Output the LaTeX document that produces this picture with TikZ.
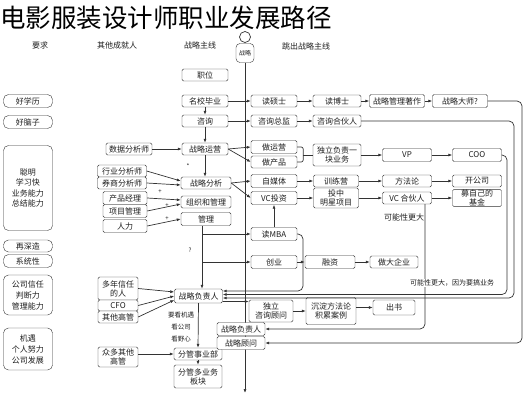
\documentclass[tikz,border=0pt]{standalone}
\usepackage{fontspec}
\setmainfont{Noto Sans CJK SC}
\usetikzlibrary{arrows.meta}
\definecolor{linec}{HTML}{333333}
\definecolor{txtc}{HTML}{1F1F1F}
\newcommand{\boxfont}{\fontsize{8}{9}\selectfont}
\newcommand{\tinyfont}{\fontsize{6}{7}\selectfont}
\begin{document}
\begin{tikzpicture}[x = 1pt, y = -1pt,
    bx/.style = {draw = linec, fill = white, rounded corners = 1.5pt, font = \boxfont, text = txtc, align = center, inner sep = 0.5pt, minimum height = 12pt, minimum width = #1},
    bx/.default = 46pt,
    req/.style = {bx = 49pt, rounded corners = 5pt},
    lbl/.style = {font = \boxfont, text = txtc, inner sep = 1pt, align = center},
    ln/.style = {draw = linec, line width = 0.7pt},
    arr/.style = {ln, -{Latex[length = 4pt, width = 3pt]}},
    back/.style = {arr, rounded corners = 5pt}]
  \useasboundingbox (0, 0) rectangle (528, 400);
  \node[anchor = west, inner sep = 0, font = \fontsize{25.5}{26}\selectfont, text = black] (title) at (0, 18) {电影服装设计师职业发展路径};
  % headers
  \node[lbl] (hyq) at (40, 45) {要求};
  \node[lbl] (hqt) at (117, 45) {其他成就人};
  \node[lbl] (hzl) at (200, 45) {战略主线};
  \node[lbl] (htc) at (306, 46) {跳出战略主线};
  \node[bx = 18pt, minimum height = 19pt, rounded corners = 4pt, font = \tinyfont] (pson) at (245, 53) {战略};
  \draw[ln, fill = white] (245, 37) circle (5.5pt);
  \coordinate (tend) at (245, 393);
  \draw[arr] (pson) -- (tend);
  % left column
  \node[req, minimum height = 13pt] (rq1) at (28, 101) {好学历};
  \node[req, minimum height = 13pt] (rq2) at (28, 122) {好脑子};
  \node[req, minimum height = 85pt, font = \fontsize{8}{10.5}\selectfont] (rq3) at (28, 188) {聪明\\学习快\\业务能力\\总结能力};
  \node[req] (rq4) at (28, 246) {再深造};
  \node[req, minimum height = 13pt] (rq5) at (28, 261) {系统性};
  \node[req, minimum height = 40pt, font = \fontsize{8}{11}\selectfont] (rq6) at (28, 295) {公司信任\\判断力\\管理能力};
  \node[req, minimum height = 42pt, font = \fontsize{8}{11}\selectfont] (rq7) at (28, 349) {机遇\\个人努力\\公司发展};
  % second column
  \node[bx] (sjfx) at (129, 149) {数据分析师};
  \node[bx = 49pt] (hyfx) at (122, 171) {行业分析师};
  \node[bx = 49pt] (qsfx) at (122, 183) {券商分析师};
  \node[bx = 44pt, minimum height = 13pt] (cpjl) at (125, 198) {产品经理};
  \node[bx = 44pt, minimum height = 13pt] (xmgl) at (125, 211) {项目管理};
  \node[bx = 44pt, minimum height = 13pt] (rl) at (125, 226) {人力};
  \node[bx = 40pt, minimum height = 23pt] (dnxr) at (118, 288.5) {多年信任\\的人};
  \node[bx = 40pt, minimum height = 11pt] (cfo) at (118, 305.5) {CFO};
  \node[bx = 40pt] (qtgg) at (118, 317) {其他高管};
  \node[bx = 40pt, minimum height = 20pt] (zdqt) at (118, 357) {众多其他\\高管};
  \node[lbl, font = \tinyfont] (pl1) at (160, 192) {+};
  \node[lbl, font = \tinyfont] (pl2) at (167, 206) {+};
  \node[lbl, font = \tinyfont] (pl3) at (167, 219) {+};
  \node[lbl, font = \tinyfont] (st1) at (188, 166) {*};
  \node[lbl, font = \tinyfont] (qm1) at (190, 250) {?};
  % strategy line
  \node[bx] (zw) at (205, 75) {职位};
  \node[bx] (mxby) at (205, 101) {名校毕业};
  \node[bx] (zx) at (205, 121) {咨询};
  \node[bx] (zlyy) at (205, 149) {战略运营};
  \node[bx = 50pt] (zlfx) at (206, 183) {战略分析};
  \node[bx = 50pt] (zzgl) at (206, 202) {组织和管理};
  \node[bx = 50pt, minimum height = 13pt] (gl) at (206, 219) {管理};
  \node[bx = 48pt, minimum height = 14pt] (zlfzr) at (198.5, 296) {战略负责人};
  \node[lbl, font = \fontsize{6.5}{12}\selectfont] (jy) at (181, 327) {要看机遇\\看公司\\看野心};
  \node[bx = 48pt] (fgsyb) at (198, 354) {分管事业部};
  \node[bx = 48pt, minimum height = 23pt] (fgdyw) at (198, 376.5) {分管多业务\\板块};
  % fourth column
  \node[bx] (dss) at (274, 101) {读硕士};
  \node[bx] (zxzj) at (274, 121) {咨询总监};
  \node[bx, minimum height = 13pt] (zyy) at (274, 147) {做运营};
  \node[bx] (zcp) at (274, 162) {做产品};
  \node[bx, minimum height = 13pt] (zmt) at (274, 181) {自媒体};
  \node[bx, minimum height = 13pt] (vctz) at (274, 198) {VC投资};
  \node[bx, minimum height = 13pt] (dmba) at (274, 234) {读MBA};
  \node[bx, minimum height = 13pt] (cy) at (274, 262) {创业};
  \node[bx = 44pt, minimum height = 22pt] (dlzx) at (271, 311) {独立\\咨询顾问};
  \node[bx = 48pt, minimum height = 13pt] (zlfzr2) at (241, 329) {战略负责人};
  \node[bx = 48pt, minimum height = 13pt] (zlgw) at (241, 343) {战略顾问};
  % fifth column
  \node[bx = 48pt] (dbs) at (337, 101) {读博士};
  \node[bx = 48pt] (zxhh) at (337, 121) {咨询合伙人};
  \node[bx = 48pt, minimum height = 22pt] (dlfz) at (337, 155) {独立负责一\\块业务};
  \node[bx = 45pt] (xly) at (336, 181) {训练营};
  \node[bx = 45pt, minimum height = 20pt] (tzmx) at (336, 198) {投中\\明星项目};
  \node[bx = 50pt, minimum height = 13pt] (rz) at (330, 262) {融资};
  \node[bx = 50pt, minimum height = 27pt] (cdff) at (331, 311) {沉淀方法论\\积累案例};
  % sixth and seventh columns
  \node[bx = 55pt, minimum height = 13pt] (zlgl) at (397, 101) {战略管理著作};
  \node[bx = 55pt, minimum height = 13pt] (zlds) at (460, 101) {战略大师?};
  \node[bx = 49pt, minimum height = 13pt] (vp) at (407, 155) {VP};
  \node[bx = 49pt] (ffl) at (407, 181) {方法论};
  \node[bx = 49pt] (vchh) at (407, 198) {VC 合伙人};
  \node[lbl] (kn1) at (404, 217) {可能性更大};
  \node[bx = 48pt] (zdqy) at (394, 262) {做大企业};
  \node[bx = 42pt, minimum height = 15pt] (cs) at (394, 307.5) {出书};
  \node[bx = 49pt, minimum height = 13pt] (coo) at (477, 155) {COO};
  \node[bx = 49pt, minimum height = 12pt] (kgs) at (477, 181) {开公司};
  \node[bx = 49pt, minimum height = 17pt] (mjj) at (477, 198) {募自己的\\基金};
  % connectors
  \draw[arr] (mxby) -- (dss);
  \draw[arr] (dss) -- (dbs);
  \draw[arr] (dbs) -- (zlgl);
  \draw[arr] (zlgl) -- (zlds);
  \draw[arr] (zx) -- (zxzj);
  \draw[arr] (zxzj) -- (zxhh);
  \draw[arr] (mxby) -- (zx);
  \draw[arr] (zx) -- (zlyy);
  \draw[arr] (zlyy.south) -- (zlyy.south |- zlfx.north);
  \draw[arr] (sjfx) -- (zlyy);
  \draw[arr] (hyfx.east) -- ([yshift = 2pt]zlfx.west);
  \draw[arr] (qsfx.east) -- ([yshift = -2pt]zlfx.west);
  \draw[arr] (cpjl.east) -- ([yshift = 2pt]zzgl.west);
  \draw[arr] (xmgl.east) -- ([yshift = -2pt]zzgl.west);
  \draw[arr] (rl.east) -- (gl.west);
  \draw[arr] (zlyy.east) -- (zyy.west);
  \draw[arr] (zlyy.east) -- (zcp.west);
  \draw[arr] (zlfx.east) -- (zmt.west);
  \draw[arr] (zlfx.east) -- (vctz.west);
  \draw[ln, rounded corners = 2pt] (zyy.east) -| ([xshift = 6pt]zcp.east) -- (zcp.east);
  \draw[ln] ([xshift = 6pt]zcp.east |- dlfz.west) -- (dlfz.west);
  \draw[arr] (dlfz) -- (vp);
  \draw[arr] (vp) -- (coo);
  \draw[arr] (zmt) -- (xly);
  \draw[arr] (xly) -- (ffl);
  \draw[arr] (ffl) -- (kgs);
  \draw[arr] (vctz) -- (tzmx);
  \draw[arr] (tzmx) -- (vchh);
  \draw[arr] (vchh) -- (mjj);
  \draw[arr] (dmba) -- (vctz);
  \draw[arr] ([xshift = -4pt]gl.south) -- ([xshift = -4pt]gl.south |- zlfzr.north);
  \draw[arr] ([xshift = -4pt]gl.south |- dmba.west) -- (dmba.west);
  \draw[arr] ([xshift = -4pt]gl.south |- cy.west) -- (cy.west);
  \draw[arr] (cy) -- (rz);
  \draw[arr] (rz) -- (zdqy);
  \draw[back] (dmba.east) -| (303, 291) -- ([yshift = 5pt]zlfzr.east);
  \draw[back] (coo.east) -| (507, 294.5) -- ([yshift = 1.5pt]zlfzr.east);
  \draw[back] (zxhh.east) -| (514, 298) -- ([yshift = -2pt]zlfzr.east);
  \draw[back] ([xshift = 18pt]vchh.south) |- (zlfzr2.east);
  \draw[back] (zlds.east) -| (522, 343) -- (zlgw.east);
  \draw[arr] ([yshift = -5.5pt]zlfzr.east) -- ([yshift = -5.5pt]zlfzr.east -| dlzx.west);
  \draw[arr] (dlzx) -- (cdff);
  \draw[arr] (cdff.east |- cs.west) -- (cs.west);
  \draw[arr] (dnxr.east) -- ([yshift = 4pt]zlfzr.west);
  \draw[arr] (cfo.east) -- (zlfzr.west);
  \draw[arr] (qtgg.east) -- ([yshift = -4pt]zlfzr.west);
  \draw[arr] (zlfzr.south) -- (fgsyb.north);
  \draw[arr] (fgsyb) -- (fgdyw);
  \draw[arr] (zdqt.east |- fgsyb.west) -- (fgsyb.west);
  \node[lbl, fill = white, font = \fontsize{7}{8}\selectfont] (kn2) at (452, 283) {可能性更大，因为要搞业务};
\end{tikzpicture}
\end{document}
